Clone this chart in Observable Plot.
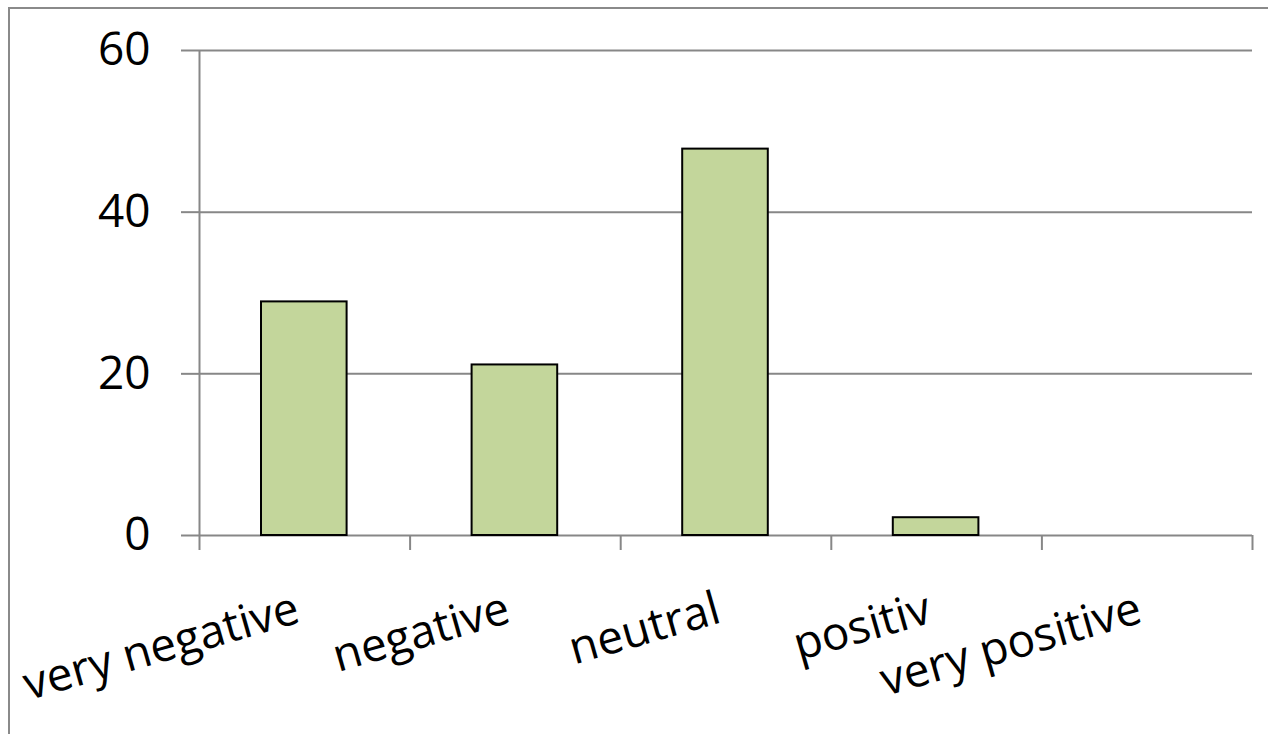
<!DOCTYPE html>
<html>
<head>
<meta charset="utf-8">
<script src="https://cdn.jsdelivr.net/npm/d3@7"></script>
<script src="https://cdn.jsdelivr.net/npm/@observablehq/plot@0.6"></script>
<style>
  html, body { margin: 0; padding: 0; background: #fff; }
  #chart { position: relative; width: 1268px; height: 734px; overflow: hidden; }
  #chart .frame {
    position: absolute; left: 8px; top: 7px; width: 1300px; height: 800px;
    border: 2px solid #8a8a8a; box-sizing: border-box; pointer-events: none;
  }
  #chart svg { position: absolute; left: 0; top: 0; }
</style>
</head>
<body>
<div id="chart"><div class="frame"></div></div>
<script>
// Sentiment categories and their shares (percent)
const categories = ["very negative", "negative", "neutral", "positiv", "very positive"];
const values = [28.9, 21.1, 47.8, 2.2, 0];
const yTicks = [0, 20, 40, 60];

const rows = categories.map((c, i) => ({category: c, index: i, value: values[i]}));
// category boundaries for the x tick marks
const boundaries = categories.map((_, i) => i).concat(categories.length);

const gray = "#878787";
const font = "'Open Sans', 'Noto Sans', sans-serif";

const chart = Plot.plot({
  width: 1268,
  height: 734,
  marginLeft: 199,
  marginRight: 16,
  marginTop: 50,
  marginBottom: 199,
  style: {fontFamily: font, background: "transparent", overflow: "visible"},
  x: {type: "linear", domain: [0, categories.length], axis: null},
  y: {domain: [0, 60], axis: null},
  marks: [
    Plot.gridY(yTicks, {stroke: gray, strokeOpacity: 1, strokeWidth: 2}),
    Plot.axisY(yTicks, {
      tickSize: 18, tickPadding: 31, stroke: gray, strokeWidth: 2,
      fill: "black", fontSize: 46, tickFormat: d => String(d), label: null
    }),
    Plot.ruleX([0], {y1: 0, y2: 60, stroke: gray, strokeWidth: 2}),
    Plot.axisX(boundaries, {tickSize: 15, stroke: gray, strokeWidth: 2, tickFormat: () => "", label: null}),
    Plot.rectY(rows, {
      x1: "index", x2: d => d.index + 1, y: "value",
      insetLeft: 62, insetRight: 63,
      fill: "#c3d69b", stroke: "black", strokeWidth: 2,
      filter: d => d.value > 0
    }),
    Plot.text(rows, {
      x: d => d.index + 0.5, y: 0, text: "category",
      rotate: -16, textAnchor: "end", lineAnchor: "top",
      dx: -12, dy: 55, fontSize: 46, fill: "black"
    })
  ]
});

document.getElementById("chart").appendChild(chart);
</script>
</body>
</html>
